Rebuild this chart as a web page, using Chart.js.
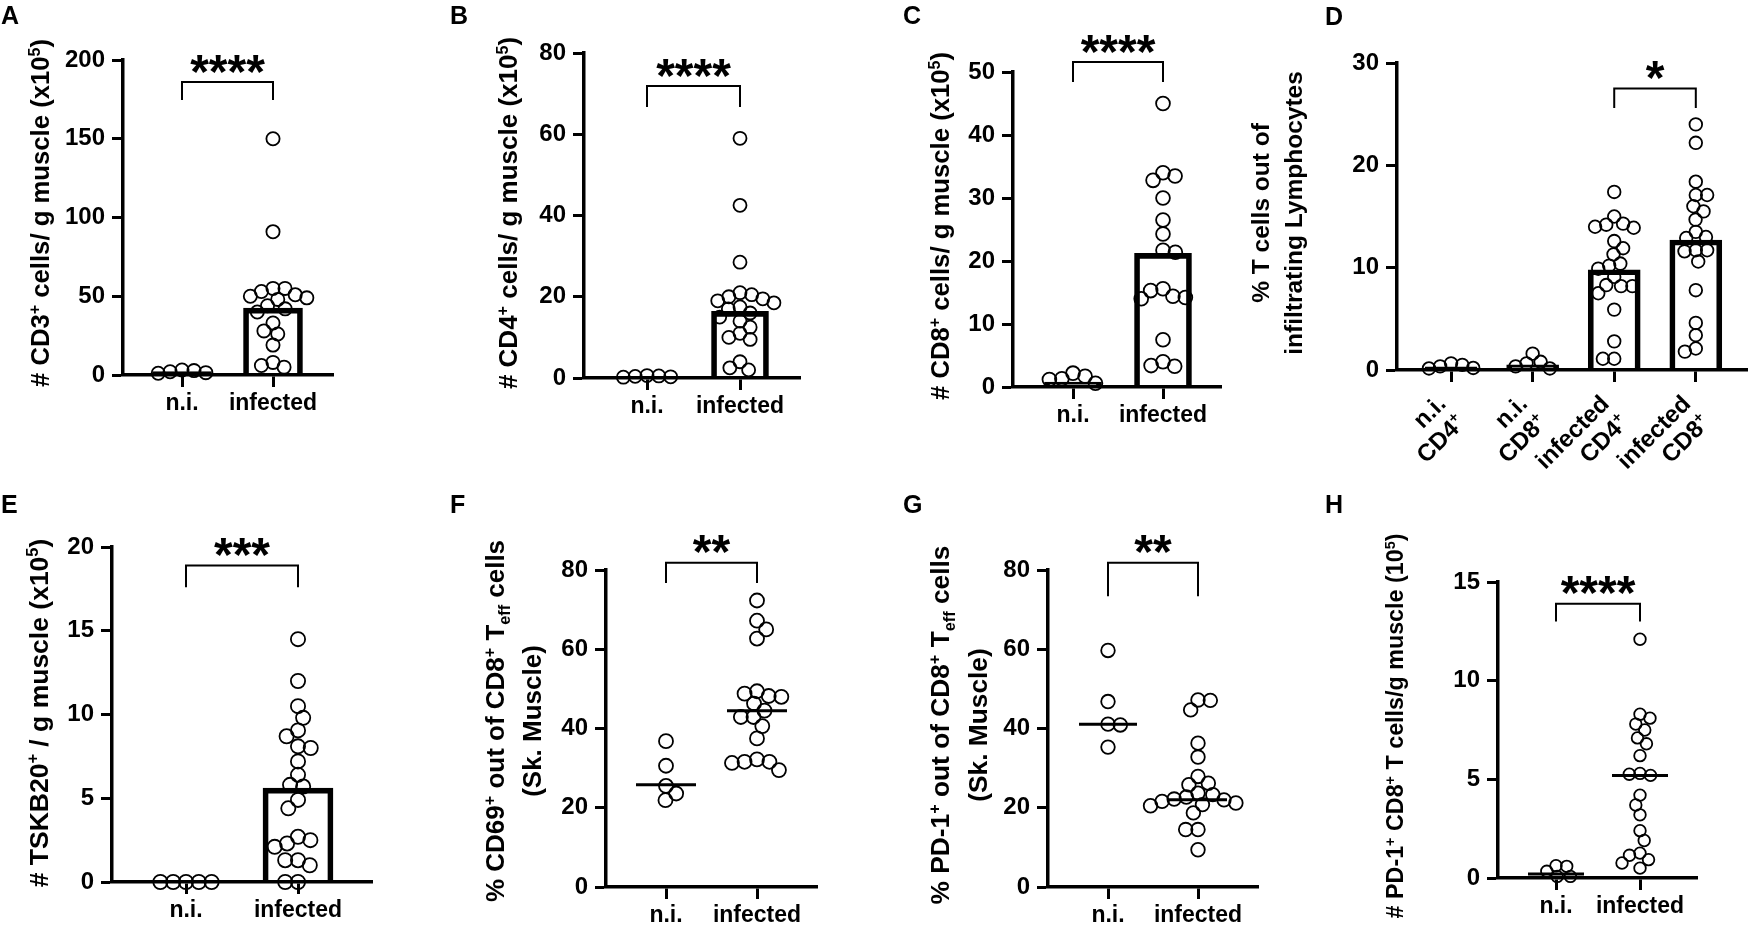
<!DOCTYPE html>
<html>
<head>
<meta charset="utf-8">
<script src="https://cdn.jsdelivr.net/npm/chart.js@4.4.1/dist/chart.umd.min.js"></script>
<style>
html,body{margin:0;padding:0;background:#fff;}
#wrap{position:relative;width:1756px;height:928px;overflow:hidden;background:#fff;}
#wrap canvas{position:absolute;left:0;top:0;}
</style>
</head>
<body>
<div id="wrap"></div>
<script>
// ================= DATA =================
const groupLabels = ['n.i.', 'infected'];
const groupLabelsD = ['n.i.|CD4^{+}', 'n.i.|CD8^{+}', 'infected|CD4^{+}', 'infected|CD8^{+}'];

const yTicksA = [0, 50, 100, 150, 200];
const yTicksB = [0, 20, 40, 60, 80];
const yTicksC = [0, 10, 20, 30, 40, 50];
const yTicksD = [0, 10, 20, 30];
const yTicksE = [0, 5, 10, 15, 20];
const yTicksF = [0, 20, 40, 60, 80];
const yTicksG = [0, 20, 40, 60, 80];
const yTicksH = [0, 5, 10, 15];

// A: # CD3+ cells / g muscle (x10^5)
const cd3NI = [1.5, 3.2, 2.8, 2.1, 1.1];
const cd3Inf = [150, 91, 55, 55, 53, 51, 50, 49, 48, 44, 42, 40, 33, 28, 26, 19, 8, 6, 5];
const cd3Mean = [2.1, 42.5];
// B: # CD4+ cells / g muscle
const cd4NI = [0.4, 0.6, 0.3, 0.5, 0.2];
const cd4Inf = [59, 42.5, 28.5, 21, 20.5, 20, 19.5, 19, 18.5, 17.5, 17, 16, 15, 14, 12.5, 11, 10, 9.5, 4, 2.5, 2];
const cd4Mean = [0.4, 16.4];
// C: # CD8+ cells / g muscle
const cd8NI = [1.2, 2.2, 1.3, 1.7, 0.6];
const cd8Inf = [45, 34, 33.5, 32.8, 30, 26.5, 24.3, 21.7, 21.4, 15.6, 15.3, 14.4, 14.2, 14, 7.5, 4, 3.4, 3.3];
const cd8Mean = [0.8, 21.2];
// D: % T cells out of infiltrating lymphocytes
const pctCD4NI = [0.2, 0.65, 0.35, 0.5, 0.15];
const pctCD8NI = [1.6, 0.65, 0.8, 0.35, 0.15];
const pctCD4Inf = [17.4, 15.0, 14.3, 14.2, 14.0, 13.9, 12.6, 11.9, 11.3, 10.4, 10.2, 9.9, 9.1, 8.3, 8.2, 8.2, 7.5, 5.9, 2.8, 1.1, 1.1];
const pctCD8Inf = [24.0, 22.2, 18.4, 17.1, 17.1, 16.0, 15.5, 14.7, 13.5, 13.0, 12.9, 11.7, 11.7, 11.6, 10.6, 7.8, 4.6, 3.4, 2.1, 1.8];
const pctMean = [0.3, 0.5, 9.8, 12.7];
// E: # TSKB20+ / g muscle
const tskbNI = [0, 0, 0, 0, 0];
const tskbInf = [14.5, 12, 10.5, 9.8, 9.05, 8.7, 8.1, 8.0, 7.2, 6.4, 5.8, 5.7, 4.9, 4.4, 2.7, 2.5, 2.3, 2.1, 1.3, 1.3, 1.0, 0, 0];
const tskbMean = [0, 5.6];
// F: % CD69+ out of CD8+ Teff
const cd69NI = [36.8, 30.6, 25.5, 23.6, 21.9];
const cd69Inf = [72.3, 67.2, 65, 62.7, 49.4, 48.8, 48.2, 48, 46.3, 44.5, 42.9, 42.9, 40.6, 37.5, 32.2, 31.6, 31.6, 31.3, 29.5];
const cd69Median = [25.8, 44.5];
// G: % PD-1+ out of CD8+ Teff
const pd1PctNI = [59.7, 46.8, 41.1, 40.9, 35.3];
const pd1PctInf = [47.2, 47.1, 44.7, 36.3, 32.8, 27.9, 26.2, 25.8, 23.7, 23.3, 22.7, 22.2, 22, 21.6, 21.2, 20.8, 20.5, 18.7, 14.5, 14.5, 9.4];
const pd1PctMedian = [41.1, 22.0];
// H: # PD-1+ CD8+ T cells / g muscle
const pd1NumNI = [0.62, 0.59, 0.34, 0.08, 0.08];
const pd1NumInf = [12.1, 8.3, 8.1, 7.8, 7.5, 7.1, 6.8, 6.2, 5.3, 5.26, 5.2, 4.2, 3.7, 3.2, 2.4, 1.9, 1.26, 1.15, 0.93, 0.76, 0.5];
const pd1NumMedian = [0.2, 5.2];

// significance: stars and bracket levels (data units: top, leg end)
const sigStars = ['****', '****', '****', '*', '***', '**', '**', '****'];
const sigLevels = [[186, 174.6], [71.9, 66.7], [51.6, 48.4], [27.5, 25.6], [18.9, 17.6], [81.8, 76.7], [81.8, 73.4], [13.9, 13.0]];

// ================= RENDERING =================
const FONT = '"Liberation Sans", Arial, Helvetica, sans-serif';
Chart.defaults.font.family = FONT;
Chart.defaults.font.weight = 'bold';
Chart.defaults.color = '#000';
const Y_AXIS_W = 90;

function parseRich(str) {
  const out = [];
  const re = /\^\{([^}]*)\}|_\{([^}]*)\}|([^\^_]+)/g;
  let m;
  while ((m = re.exec(str))) {
    if (m[1] !== undefined) out.push({t: m[1], k: 'sup'});
    else if (m[2] !== undefined) out.push({t: m[2], k: 'sub'});
    else out.push({t: m[3], k: ''});
  }
  return out;
}
function drawRich(ctx, str, x, y, size, rot, align) {
  const segs = parseRich(str);
  ctx.save();
  ctx.translate(x, y);
  ctx.rotate(rot);
  let total = 0;
  segs.forEach(s => {
    s.fs = s.k ? size * 0.62 : size;
    ctx.font = 'bold ' + s.fs + 'px ' + FONT;
    s.w = ctx.measureText(s.t).width;
    total += s.w;
  });
  let cx = align === 'right' ? -total : -total / 2;
  ctx.textBaseline = 'alphabetic';
  ctx.textAlign = 'left';
  ctx.fillStyle = '#000';
  const base = size * 0.36;
  segs.forEach(s => {
    ctx.font = 'bold ' + s.fs + 'px ' + FONT;
    const dy = s.k === 'sup' ? -size * 0.37 : (s.k === 'sub' ? size * 0.2 : 0);
    ctx.fillText(s.t, cx, base + dy);
    cx += s.w;
  });
  ctx.restore();
}

function swarm(values, pyu, minDist) {
  const order = values.map((v, i) => i).sort((a, b) => values[b] - values[a]);
  const placed = [];
  const off = new Array(values.length).fill(0);
  let flip = 1;
  order.forEach(i => {
    const y = values[i] * pyu;
    const cands = [0];
    placed.forEach(p => {
      const dy = Math.abs(p.y - y);
      if (dy < minDist) {
        const dx = Math.sqrt(minDist * minDist - dy * dy);
        cands.push(p.x + dx + 0.01, p.x - dx - 0.01);
      }
    });
    cands.sort((a, b) => (Math.abs(a) - Math.abs(b)) || (flip * (b - a)));
    let best = 0;
    for (const c of cands) {
      if (placed.every(p => (p.x - c) * (p.x - c) + (p.y - y) * (p.y - y) >= minDist * minDist - 0.05)) { best = c; break; }
    }
    if (best !== 0) flip = -flip;
    placed.push({x: best, y});
    off[i] = best;
  });
  return off;
}

const annot = {
  id: 'annot',
  afterDraw(chart, args, o) {
    const ctx = chart.ctx;
    const xs = chart.scales.x, ys = chart.scales.y;
    ctx.save();
    // panel letter
    ctx.font = 'bold 25px ' + FONT;
    ctx.fillStyle = '#000';
    ctx.textAlign = 'left';
    ctx.textBaseline = 'alphabetic';
    ctx.fillText(o.letter, o.lx, o.ly);
    // axis title
    o.title.forEach((t, k) => drawRich(ctx, t, o.tx[k], o.ty, o.ts, -Math.PI / 2, 'center'));
    // significance bracket
    const x0 = xs.getPixelForValue(o.pair[0]), x1 = xs.getPixelForValue(o.pair[1]);
    const yt = ys.getPixelForValue(o.level[0]), yb = ys.getPixelForValue(o.level[1]);
    ctx.lineWidth = 2;
    ctx.strokeStyle = '#000';
    ctx.beginPath();
    ctx.moveTo(x0, yb); ctx.lineTo(x0, yt); ctx.lineTo(x1, yt); ctx.lineTo(x1, yb);
    ctx.stroke();
    ctx.font = 'bold 48px ' + FONT;
    ctx.textAlign = 'center';
    ctx.fillText(o.stars, (x0 + x1) / 2, yt - 22 + 27.6);
    // rotated two-line category labels
    if (o.rotLabels) {
      const ay = ys.getPixelForValue(0);
      o.rotLabels.forEach((lab, i) => {
        const p = xs.getPixelForValue(i);
        lab.split('|').forEach((line, j) => {
          const d = j * 27 * Math.SQRT1_2;
          drawRich(ctx, line, p - 10 + d, ay + 29 + d, 24, -Math.PI / 4, 'right');
        });
      });
    }
    ctx.restore();
  }
};

function makePanel(cfg) {
  const n = cfg.g.length;
  const sp = (cfg.g[n - 1] - cfg.g[0]) / (n - 1);
  const xmin = -(cfg.g[0] - cfg.L) / sp;
  const xmax = (cfg.R - cfg.g[0]) / sp;
  const pyu = (cfg.B - cfg.T) / cfg.ymax;
  const diam = 2 * cfg.r + 1.8;
  const xH = Math.min(50, 928 - cfg.B);
  const datasets = [];
  cfg.groups.forEach((vals, gi) => {
    const off = swarm(vals, pyu, diam * 0.8);
    datasets.push({
      type: 'scatter',
      data: vals.map((v, i) => ({x: gi + off[i] / sp, y: v})),
      pointRadius: cfg.r, pointHoverRadius: cfg.r,
      pointBorderWidth: 1.8, pointBorderColor: '#000',
      pointBackgroundColor: 'rgba(0,0,0,0)',
      clip: false, order: 1
    });
  });
  if (cfg.bars) {
    datasets.push({
      type: 'bar',
      data: cfg.bars.map((v, gi) => ({x: gi, y: v})),
      barThickness: cfg.barW, borderWidth: 5, borderColor: '#000',
      backgroundColor: 'rgba(0,0,0,0)', clip: false, order: 3
    });
  }
  if (cfg.medians) {
    cfg.medians.forEach((m, gi) => {
      datasets.push({
        type: 'line',
        data: [{x: gi - cfg.mw / sp, y: m}, {x: gi + cfg.mw / sp, y: m}],
        borderColor: '#000', borderWidth: 3, pointRadius: 0, fill: false,
        clip: false, order: 0
      });
    });
  }
  const cv = document.createElement('canvas');
  cv.width = 1756; cv.height = 928;
  cv.style.width = '1756px'; cv.style.height = '928px';
  document.getElementById('wrap').appendChild(cv);
  new Chart(cv, {
    type: 'scatter',
    data: {datasets},
    plugins: [annot],
    options: {
      responsive: false, animation: false, events: [],
      layout: {padding: {left: cfg.L - Y_AXIS_W, right: 1756 - cfg.R, top: cfg.T, bottom: 928 - cfg.B - xH}},
      plugins: {
        legend: {display: false}, tooltip: {enabled: false},
        annot: {
          letter: cfg.letter, lx: cfg.lx, ly: cfg.ly,
          title: cfg.title, tx: cfg.tx, ty: cfg.ty, ts: cfg.ts,
          pair: cfg.pair, level: cfg.level, stars: cfg.stars,
          rotLabels: cfg.rotLabels || null
        }
      },
      scales: {
        x: {
          type: 'linear', min: xmin, max: xmax, bounds: 'data', offset: false,
          afterFit: s => { s.height = xH; },
          afterBuildTicks: s => { s.ticks = cfg.g.map((_, i) => ({value: i})); },
          ticks: {
            callback: v => cfg.rotLabels ? '' : (cfg.labels[v] !== undefined ? cfg.labels[v] : ''),
            maxRotation: 0, minRotation: 0, autoSkip: false, padding: 3,
            font: {size: 23, weight: 'bold'}, color: '#000'
          },
          grid: {display: true, offset: false, drawOnChartArea: false, drawTicks: true, tickLength: 12, tickWidth: 3, tickColor: '#000', color: '#000'},
          border: {display: true, width: 3.5, color: '#000'}
        },
        y: {
          type: 'linear', min: 0, max: cfg.ymax, offset: false,
          afterFit: s => { s.width = Y_AXIS_W; },
          afterBuildTicks: s => { s.ticks = cfg.yt.map(v => ({value: v})); },
          ticks: {callback: v => String(v), padding: 7, autoSkip: false, font: {size: 24, weight: 'bold'}, color: '#000'},
          grid: {display: true, offset: false, drawOnChartArea: false, drawTicks: true, tickLength: 11, tickWidth: 3, tickColor: '#000', color: '#000'},
          border: {display: true, width: 3.5, color: '#000'}
        }
      }
    }
  });
}

const panels = [
  {letter: 'A', lx: 1, ly: 24, L: 123, R: 333, T: 60, B: 375, g: [182, 273], ymax: 200, yt: yTicksA,
   groups: [cd3NI, cd3Inf], bars: cd3Mean, barW: 59, r: 6.6, labels: groupLabels,
   title: ['# CD3^{+} cells/ g muscle (x10^{5})'], tx: [40], ty: 213, ts: 25.7,
   pair: [0, 1], level: sigLevels[0], stars: sigStars[0]},
  {letter: 'B', lx: 450, ly: 24, L: 584, R: 800, T: 53, B: 378, g: [647, 740], ymax: 80, yt: yTicksB,
   groups: [cd4NI, cd4Inf], bars: cd4Mean, barW: 57, r: 6.5, labels: groupLabels,
   title: ['# CD4^{+} cells/ g muscle (x10^{5})'], tx: [508], ty: 213, ts: 26,
   pair: [0, 1], level: sigLevels[1], stars: sigStars[1]},
  {letter: 'C', lx: 903, ly: 24, L: 1013, R: 1221, T: 72, B: 387, g: [1073, 1163], ymax: 50, yt: yTicksC,
   groups: [cd8NI, cd8Inf], bars: cd8Mean, barW: 57, r: 6.9, labels: groupLabels,
   title: ['# CD8^{+} cells/ g muscle (x10^{5})'], tx: [940], ty: 226, ts: 25.7,
   pair: [0, 1], level: sigLevels[2], stars: sigStars[2]},
  {letter: 'D', lx: 1325, ly: 25, L: 1397, R: 1754, T: 63, B: 370, g: [1452, 1534, 1617, 1701], ymax: 30, yt: yTicksD,
   groups: [pctCD4NI, pctCD8NI, pctCD4Inf, pctCD8Inf], bars: pctMean, barW: 52, r: 6.3, rotLabels: groupLabelsD,
   title: ['% T cells out of', 'infiltrating Lymphocytes'], tx: [1260, 1293], ty: 213, ts: 24.5,
   pair: [2, 3], level: sigLevels[3], stars: sigStars[3]},
  {letter: 'E', lx: 1, ly: 513, L: 112, R: 372, T: 547, B: 882, g: [186, 298], ymax: 20, yt: yTicksE,
   groups: [tskbNI, tskbInf], bars: tskbMean, barW: 70, r: 7.1, labels: groupLabels,
   title: ['# TSKB20^{+} / g muscle (x10^{5})'], tx: [38], ty: 713, ts: 26.5,
   pair: [0, 1], level: sigLevels[4], stars: sigStars[4]},
  {letter: 'F', lx: 450, ly: 513, L: 606, R: 817, T: 570, B: 887, g: [666, 757], ymax: 80, yt: yTicksF,
   groups: [cd69NI, cd69Inf], medians: cd69Median, mw: 30, r: 7, labels: groupLabels,
   title: ['% CD69^{+} out of CD8^{+} T_{eff} cells', '(Sk. Muscle)'], tx: [495, 532], ty: 721, ts: 26,
   pair: [0, 1], level: sigLevels[5], stars: sigStars[5]},
  {letter: 'G', lx: 903, ly: 513, L: 1048, R: 1258, T: 570, B: 887, g: [1108, 1198], ymax: 80, yt: yTicksG,
   groups: [pd1PctNI, pd1PctInf], medians: pd1PctMedian, mw: 29, r: 6.8, labels: groupLabels,
   title: ['% PD-1^{+} out of CD8^{+} T_{eff} cells', '(Sk. Muscle)'], tx: [940, 978], ty: 725, ts: 26.3,
   pair: [0, 1], level: sigLevels[6], stars: sigStars[6]},
  {letter: 'H', lx: 1325, ly: 513, L: 1498, R: 1697, T: 582, B: 878, g: [1556, 1640], ymax: 15, yt: yTicksH,
   groups: [pd1NumNI, pd1NumInf], medians: pd1NumMedian, mw: 28, r: 5.8, labels: groupLabels,
   title: ['# PD-1^{+} CD8^{+} T cells/g muscle (10^{5})'], tx: [1395], ty: 726, ts: 23.3,
   pair: [0, 1], level: sigLevels[7], stars: sigStars[7]}
];

panels.forEach(makePanel);
</script>
</body>
</html>
